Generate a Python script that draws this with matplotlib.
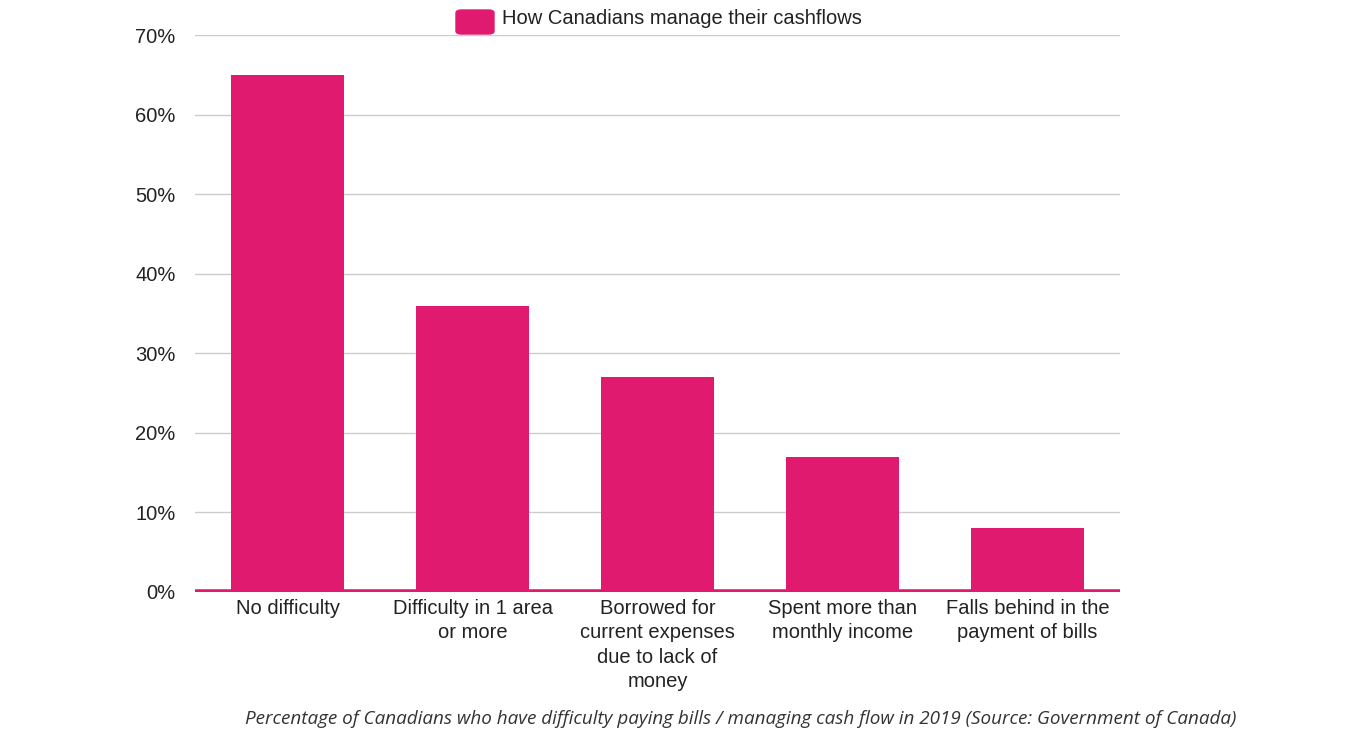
import matplotlib.pyplot as plt
from matplotlib.patches import FancyBboxPatch
from matplotlib.ticker import PercentFormatter

categories = ['No difficulty', 'Difficulty in 1 area\nor more',
              'Borrowed for\ncurrent expenses\ndue to lack of\nmoney',
              'Spent more than\nmonthly income', 'Falls behind in the\npayment of bills']
values = [65, 36, 27, 17, 8]
series_name = 'How Canadians manage their cashflows'
caption = ('Percentage of Canadians who have difficulty paying bills / '
           'managing cash flow in 2019 (Source: Government of Canada)')

pink = '#E01A6F'
plt.rcParams['font.family'] = ['Liberation Sans', 'DejaVu Sans']

fig = plt.figure(figsize=(13.49, 7.42), dpi=100)
ax = fig.add_axes([0.1446, 0.2022, 0.6856, 0.7506])

x = range(len(categories))
ax.bar(x, values, width=0.61, color=pink, zorder=3)
ax.axhline(0, color=pink, lw=4, solid_capstyle='round', zorder=4)

ax.set_xlim(-0.5, len(categories) - 0.5)
ax.set_ylim(0, 70)
ax.set_yticks(range(0, 71, 10))
ax.yaxis.set_major_formatter(PercentFormatter(decimals=0))
ax.set_xticks(list(x))
ax.set_xticklabels(categories, fontsize=14.5, linespacing=1.36)
ax.tick_params(axis='both', length=0, labelsize=14.5, colors='#222222')
ax.tick_params(axis='y', pad=14)
ax.tick_params(axis='x', pad=5)
ax.grid(axis='y', color='#cccccc', lw=1, zorder=0)
for s in ax.spines.values():
    s.set_visible(False)

# legend at top
fig.patches.append(FancyBboxPatch((456 / 1349, 1 - 34 / 742), 38 / 1349, 24 / 742,
                                  boxstyle='round,pad=0,rounding_size=0.004',
                                  transform=fig.transFigure, color=pink))
fig.text(502 / 1349, 1 - 19 / 742, series_name, fontsize=14.5, va='center', color='#222222')

fig.text(741 / 1349, 1 - 719 / 742, caption, fontsize=13.6, style='italic',
         family=['Open Sans', 'DejaVu Sans'], ha='center', va='center', color='#333333')

fig.savefig('out.png', dpi=100)
